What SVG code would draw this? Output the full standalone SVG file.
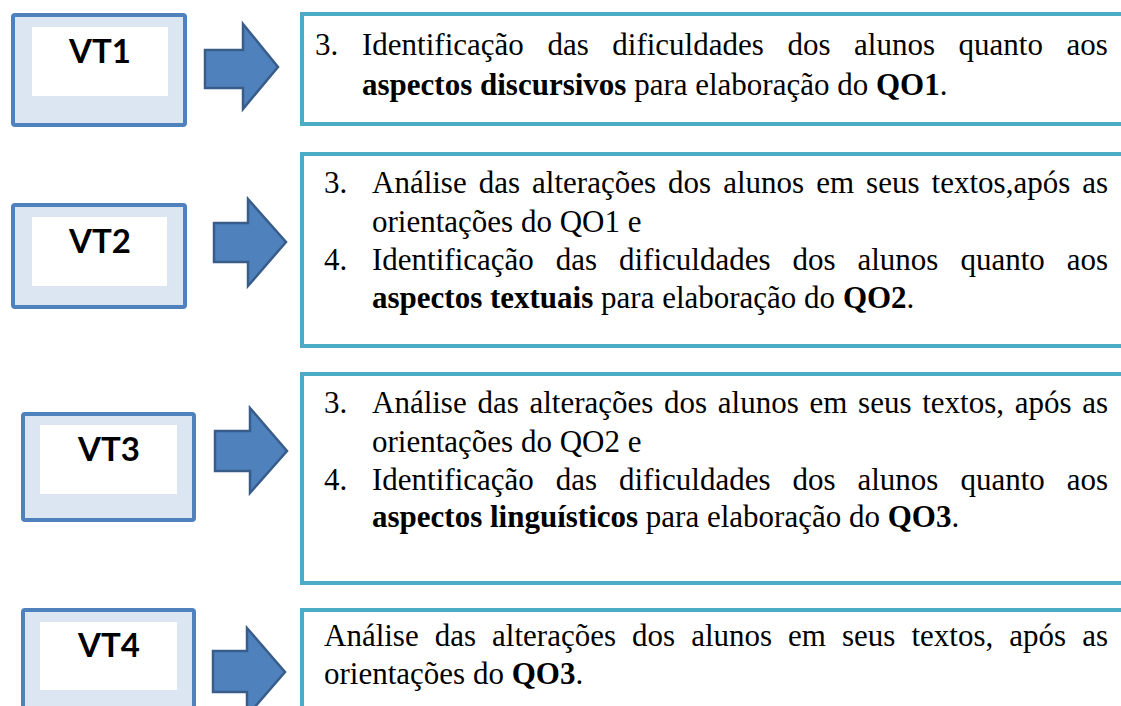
<svg xmlns="http://www.w3.org/2000/svg" width="1121" height="706" viewBox="0 0 1121 706">
<style>
.outer{fill:#DCE6F2;stroke:#4F81BD;stroke-width:4}
.inner{fill:#FFFFFF}
.vtl{font-family:Lato,"Liberation Sans",sans-serif;font-weight:bold;font-size:33px;text-anchor:middle;fill:#000}
.tbox{fill:#FFFFFF;stroke:#4BACC6;stroke-width:4}
.body{font-family:"Liberation Serif",serif;font-size:31px;fill:#000}
.b{font-weight:bold}
.arrow{fill:#4F81BD;stroke:#385D8A;stroke-width:2.5;stroke-linejoin:miter}
</style>
<rect width="1121" height="706" fill="#FFFFFF"/>

<g id="vt1">
<rect class="outer" x="13" y="15" width="172" height="110" rx="2"/>
<rect class="inner" x="32" y="27" width="136" height="69"/>
<text class="vtl" x="100" y="63">VT1</text>
</g>
<g id="vt2">
<rect class="outer" x="13" y="205" width="172" height="102" rx="2"/>
<rect class="inner" x="32" y="217" width="135" height="69"/>
<text class="vtl" x="100" y="253">VT2</text>
</g>
<g id="vt3">
<rect class="outer" x="23" y="414" width="171" height="106" rx="2"/>
<rect class="inner" x="40" y="425" width="137" height="69"/>
<text class="vtl" x="109" y="461">VT3</text>
</g>
<g id="vt4">
<rect class="outer" x="23" y="610" width="171" height="110" rx="2"/>
<rect class="inner" x="40" y="622" width="137" height="68"/>
<text class="vtl" x="109" y="657">VT4</text>
</g>

<g id="connectors">
<path class="arrow" d="M205,50 H243 V24 L278,67 L243,109 V88 H205 Z"/>
<path class="arrow" d="M214,223 H248 V199 L286,242 L248,286 V262 H214 Z"/>
<path class="arrow" d="M215,431 H250 V408 L287,451 L250,493 V471 H215 Z"/>
<path class="arrow" d="M213,651 H247 V628 L285,672 L247,716 V692 H213 Z"/>
</g>

<g id="box1">
<rect class="tbox" x="302" y="14" width="830" height="110"/>
<text class="body" y="55"><tspan x="315">3.</tspan><tspan x="362">Identificação</tspan><tspan x="547.4">das</tspan><tspan x="612.3">dificuldades</tspan><tspan x="787.4">dos</tspan><tspan x="854.1">alunos</tspan><tspan x="958.6">quanto</tspan><tspan x="1066.6">aos</tspan></text>
<text class="body" x="362" y="95"><tspan class="b">aspectos discursivos</tspan> para elaboração do <tspan class="b">QO1</tspan>.</text>
</g>

<g id="box2">
<rect class="tbox" x="302" y="154" width="830" height="192"/>
<text class="body" y="193"><tspan x="324">3.</tspan><tspan x="372">Análise</tspan><tspan x="478.8">das</tspan><tspan x="532.1">alterações</tspan><tspan x="668">dos</tspan><tspan x="723.2">alunos</tspan><tspan x="816.2">em</tspan><tspan x="866.1">seus</tspan><tspan x="931.6">textos,após</tspan><tspan x="1082.2">as</tspan></text>
<text class="body" x="372" y="232">orientações do QO1 e</text>
<text class="body" y="270"><tspan x="324">4.</tspan><tspan x="372">Identificação</tspan><tspan x="555.8">das</tspan><tspan x="619">dificuldades</tspan><tspan x="792.5">dos</tspan><tspan x="857.5">alunos</tspan><tspan x="960.4">quanto</tspan><tspan x="1066.7">aos</tspan></text>
<text class="body" x="372" y="308"><tspan class="b">aspectos textuais</tspan> para elaboração do <tspan class="b">QO2</tspan>.</text>
</g>

<g id="box3">
<rect class="tbox" x="302" y="374" width="830" height="209"/>
<text class="body" y="413"><tspan x="324">3.</tspan><tspan x="372">Análise</tspan><tspan x="477.4">das</tspan><tspan x="529.4">alterações</tspan><tspan x="664">dos</tspan><tspan x="717.8">alunos</tspan><tspan x="809.5">em</tspan><tspan x="858.1">seus</tspan><tspan x="922.2">textos,</tspan><tspan x="1014.7">após</tspan><tspan x="1082.2">as</tspan></text>
<text class="body" x="372" y="452">orientações do QO2 e</text>
<text class="body" y="490"><tspan x="324">4.</tspan><tspan x="372">Identificação</tspan><tspan x="555.8">das</tspan><tspan x="619">dificuldades</tspan><tspan x="792.5">dos</tspan><tspan x="857.5">alunos</tspan><tspan x="960.4">quanto</tspan><tspan x="1066.7">aos</tspan></text>
<text class="body" x="372" y="527"><tspan class="b">aspectos linguísticos</tspan> para elaboração do <tspan class="b">QO3</tspan>.</text>
</g>

<g id="box4">
<rect class="tbox" x="302" y="610" width="830" height="120"/>
<text class="body" y="646"><tspan x="324">Análise</tspan><tspan x="434.7">das</tspan><tspan x="492.1">alterações</tspan><tspan x="632">dos</tspan><tspan x="691.2">alunos</tspan><tspan x="788.1">em</tspan><tspan x="842">seus</tspan><tspan x="911.5">textos,</tspan><tspan x="1009.3">após</tspan><tspan x="1082.2">as</tspan></text>
<text class="body" x="324" y="684">orientações do <tspan class="b">QO3</tspan>.</text>
</g>
</svg>
